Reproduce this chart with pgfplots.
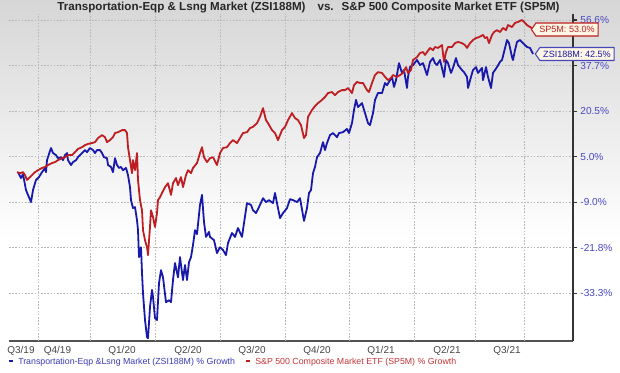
\documentclass[border=0pt]{standalone}
\usepackage{fontspec}
\setmainfont{Liberation Sans}
\usepackage{pgfplots}
\usepackage{pgfplotstable}
\pgfplotsset{compat=1.18}
\usetikzlibrary{shapes.symbols}
\definecolor{zblue}{RGB}{24,24,170}
\definecolor{zred}{RGB}{190,30,34}
\definecolor{ticklab}{RGB}{72,72,196}
\definecolor{gridc}{RGB}{185,185,185}
\definecolor{boxfill}{RGB}{253,246,228}

% x: trading-day index, y: % growth
\pgfplotstableread{
x y
18 0.2
21 -1.6
23 -0.4
26 -5.3
28 -6.8
31 -9.0
33 -5.3
36 -2.2
39 -1.3
42 0.2
45 1.5
46 0.2
47 3.9
51 7.9
53 6.2
56 5.5
58 4.5
61 4.8
63 3.9
65 5.5
67 6.2
68 3.9
71 2.4
73 3.3
76 3.9
78 4.8
82 6.2
85 7.2
87 6.5
90 7.9
93 7.2
95 6.2
97 7.2
100 7.2
102 6.2
104 4.8
107 4.5
108 2.4
111 1.8
113 0.2
115 4.5
117 2.4
119 1.5
121 1.8
123 0.8
126 1.5
128 -0.7
130 -4.4
131 -8.4
133 -10.7
135 -10.4
137 -14.1
138 -16.9
139 -24.2
141 -21.7
142 -28.2
143 -33.3
145 -40.1
147 -44.4
148 -44.7
150 -36.8
152 -32.5
153 -34.3
155 -39.6
157 -40.1
159 -30.8
161 -27.5
163 -29.3
166 -35.6
169 -35.1
171 -35.6
173 -30.0
175 -25.7
178 -29.3
180 -24.2
183 -30.0
185 -26.2
187 -30.0
189 -25.5
191 -24.2
193 -21.1
195 -16.9
197 -18.0
200 -9.8
202 -6.8
204 -14.6
206 -18.8
209 -17.4
210 -18.8
214 -19.7
217 -23.2
220 -21.7
223 -22.4
226 -23.7
228 -20.5
232 -17.7
235 -18.8
238 -16.3
242 -18.8
244 -14.9
247 -9.3
251 -9.8
253 -11.3
256 -12.1
259 -10.4
263 -7.8
266 -9.0
269 -8.4
273 -9.3
275 -6.2
277 -9.3
280 -13.5
283 -12.1
287 -10.7
290 -8.1
293 -8.4
297 -9.0
300 -7.8
304 -14.3
307 -10.7
309 -6.2
311 -5.3
313 -0.1
315 1.8
317 4.8
320 6.2
323 9.9
325 7.2
327 9.6
330 12.3
333 13.0
337 11.6
339 13.0
343 13.3
347 14.4
349 13.0
352 16.4
354 20.9
356 24.7
358 22.0
362 23.5
365 19.8
368 16.4
370 15.7
373 19.8
375 24.7
378 27.3
382 27.3
385 31.1
387 30.3
389 31.5
392 33.4
394 29.6
396 32.2
399 38.7
402 34.9
404 36.0
407 29.2
408 33.4
410 37.1
413 37.9
417 40.0
420 37.9
423 38.7
427 34.1
430 39.2
433 40.8
435 38.7
437 37.9
440 40.0
443 35.2
444 33.4
446 40.0
448 38.7
451 34.9
453 36.8
456 40.8
458 37.9
462 36.0
464 35.2
467 33.4
468 29.2
471 33.4
473 36.0
476 37.1
478 34.9
482 36.8
483 32.2
486 37.1
488 33.4
491 29.2
493 34.9
495 36.0
497 37.1
500 39.2
502 40.0
504 43.3
507 48.3
509 47.0
512 41.2
513 40.0
515 44.1
517 47.5
520 48.3
523 47.0
525 46.2
527 45.4
530 45.0
533 42.5
}\zsi

\pgfplotstableread{
x y
17 0.2
20 -0.1
23 0.2
25 -0.7
27 -2.2
29 -1.6
32 -0.7
35 0.2
38 0.8
42 1.5
45 1.8
48 2.4
52 3.0
55 3.3
58 3.9
62 4.5
65 4.8
68 5.5
72 5.5
75 6.5
78 7.6
82 8.2
85 8.9
88 9.3
92 9.6
95 9.9
98 11.3
102 12.3
105 11.6
107 9.9
110 10.6
113 11.6
115 13.0
118 13.3
122 14.0
125 14.0
127 13.0
128 8.2
130 3.9
132 -0.1
133 3.9
135 0.8
137 6.2
138 -2.2
140 -8.4
142 -11.3
143 -16.9
145 -19.7
147 -21.7
148 -23.7
150 -16.0
151 -11.3
153 -13.2
155 -16.0
157 -12.1
158 -8.4
160 -7.5
162 -6.2
165 -4.4
168 -3.2
171 -6.8
173 -3.2
176 -1.6
178 -3.8
181 -1.3
183 -4.4
186 -0.7
188 0.8
191 -0.1
193 1.5
197 3.0
200 6.2
202 8.2
204 4.8
207 3.3
210 4.5
213 4.8
217 2.4
220 6.2
223 7.9
227 8.2
230 9.6
233 10.6
237 9.6
240 11.3
243 13.0
247 13.3
250 14.7
253 15.1
257 16.4
260 18.5
263 21.6
266 17.4
268 16.4
272 14.0
275 13.0
278 10.6
282 14.0
285 15.1
288 17.4
292 19.8
295 18.1
298 17.4
301 15.7
304 11.3
306 12.3
308 18.5
312 20.9
315 22.4
318 23.5
322 24.7
325 25.8
328 27.3
332 27.7
335 26.5
338 27.7
342 28.4
345 28.4
348 29.2
352 27.3
354 30.3
357 31.5
360 31.1
363 31.1
367 28.4
369 27.7
372 31.1
375 34.1
378 35.2
382 34.9
385 33.4
388 32.2
391 33.0
393 34.1
397 33.4
400 34.1
403 34.9
406 37.1
408 34.9
411 36.0
413 40.0
417 41.2
420 42.9
423 43.3
425 42.1
427 43.3
430 45.0
433 44.1
435 45.4
438 45.0
442 46.2
444 39.2
446 43.3
448 45.4
452 45.4
455 47.0
458 47.5
462 47.0
465 46.2
467 45.0
470 47.0
473 48.3
476 49.1
479 49.5
483 50.4
485 49.1
487 49.5
489 47.0
492 50.4
494 51.6
497 52.4
500 51.6
503 53.3
506 52.4
508 54.5
512 53.7
515 55.4
518 55.8
522 56.6
524 55.8
527 54.5
530 53.7
533 53.0
}\spfive

\begin{document}
\begin{tikzpicture}
\begin{scope}[x=0.75pt,y=-0.75pt,shift={(-9,-341)}]
  \shade[top color=black!16, bottom color=white] (0,0) rectangle (620,240);
  \fill[white] (0,239.5) rectangle (620,372);
\end{scope}
\begin{axis}[
  at={(0,0)}, anchor=south west,
  scale only axis, width=423pt, height=245.25pt,
  xmin=9, xmax=573,
  ymin=-45.4, ymax=59.1,
  y coord trafo/.code={\pgfmathparse{((#1)<(-21.8)) ? (((#1)+21.8)/11.5+1) : (((#1)<(-9)) ? (((#1)+9)/12.8+2) : (((#1)<5) ? (((#1)-5)/14+3) : (((#1)<20.5) ? (((#1)-20.5)/15.5+4) : (((#1)<37.7) ? (((#1)-37.7)/17.2+5) : (((#1)-56.6)/18.9+6)))))}},
  axis x line*=bottom, axis y line*=right,
  x axis line style={draw=black!68, line width=1.6pt, -},
  y axis line style={draw=black!80, line width=1.1pt, -},
  xtick={21,57.5,122,188,252,317,381,447,507},
  xticklabels={Q3/19,Q4/19,Q1/20,Q2/20,Q3/20,Q4/20,Q1/21,Q2/21,Q3/21},
  xtick style={draw=none},
  xmajorgrids=false,
  extra x ticks={39,90,155,220,285,349,414,475,524},
  extra x tick labels={},
  extra x tick style={xmajorgrids=true, major tick length=0pt},
  ytick={-33.3,-21.8,-9.0,5.0,20.5,37.7,56.6},
  yticklabels={-33.3\%,-21.8\%,-9.0\%,5.0\%,20.5\%,37.7\%,56.6\%},
  ymajorgrids=true,
  major grid style={draw=gridc, dash pattern=on 1.2pt off 1.2pt, line width=0.75pt},
  tick align=outside,
  major tick length=3pt,
  ytick style={draw=black!80, line width=0.8pt},
  xticklabel style={font=\fontsize{7.5}{8}\selectfont, text=black!72, anchor=base, yshift=-6.6pt},
  yticklabel style={font=\fontsize{7.6}{8}\selectfont, text=ticklab, anchor=west, xshift=-1pt},
  clip=false,
]
\addplot[zblue, line width=1.35pt, line join=round] table[x=x,y=y] {\zsi};
\addplot[zred, line width=1.35pt, line join=round] table[x=x,y=y] {\spfive};
\end{axis}
\begin{scope}[x=0.75pt,y=-0.75pt,shift={(-9,-341)}]
  \node[anchor=base, font=\fontsize{8.7}{10}\bfseries\selectfont, text=black!85] at (308.5,10.7)
    {Transportation-Eqp \& Lsng Market (ZSI188M)\hspace{9pt}vs.\hspace{6pt}S\&P 500 Composite Market ETF (SP5M)};
  \node[signal, signal to=west, signal pointer angle=110, draw=zred, line width=0.8pt, fill=boxfill,
        text=zred, font=\fontsize{6.8}{8}\selectfont, inner xsep=2.5pt, inner ysep=1.6pt, minimum height=13*0.75pt]
    at (567,29.5) {SP5M: 53.0\%};
  \node[signal, signal to=west, signal pointer angle=110, draw=zblue!80, line width=0.8pt, fill=boxfill,
        text=zblue, font=\fontsize{6.8}{8}\selectfont, inner xsep=2.5pt, inner ysep=1.6pt, minimum height=13*0.75pt]
    at (577,54) {ZSI188M: 42.5\%};
  \draw[zblue, line width=1.5pt] (9,361) -- (13,361);
  \node[anchor=base west, inner sep=0pt, font=\fontsize{6.6}{8}\selectfont, text=zblue!85] at (18,364)
    {Transportation-Eqp \&Lsng Market (ZSI188M) \% Growth};
  \draw[zred, line width=1.5pt] (246,361) -- (250,361);
  \node[anchor=base west, inner sep=0pt, font=\fontsize{6.6}{8}\selectfont, text=zred!90] at (255,364)
    {S\&P 500 Composite Market ETF (SP5M) \% Growth};
  \pgfresetboundingbox
  \path (0,0) rectangle (620,372);
\end{scope}
\end{tikzpicture}
\end{document}
